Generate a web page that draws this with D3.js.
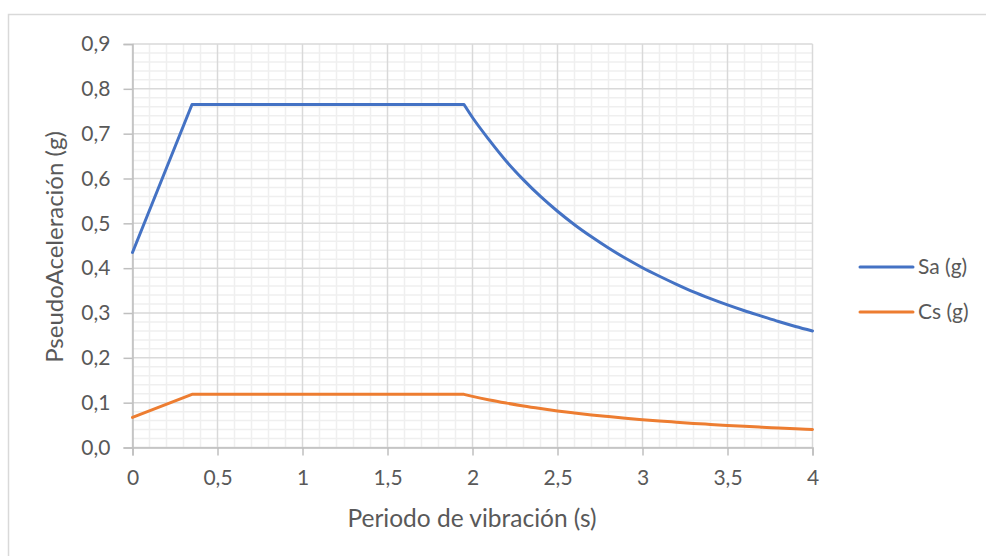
<!DOCTYPE html>
<html><head><meta charset="utf-8">
<script src="https://cdn.jsdelivr.net/npm/d3@7"></script>
<style>
html,body{margin:0;padding:0;background:#fff;}
svg{display:block;}
text{font-family:Lato,"Open Sans",sans-serif;fill:#595959;}
</style></head><body>
<svg id="c" width="986" height="556"></svg>
<script>
const periods = [0, 0.35, 1.95, 2.0, 2.1, 2.2, 2.3, 2.4, 2.5, 2.6, 2.7, 2.8, 2.9, 3.0, 3.1, 3.2, 3.3, 3.4, 3.5, 3.6, 3.7, 3.8, 3.9, 4.0];
const saValues = [0.435, 0.765, 0.765, 0.736, 0.685, 0.638, 0.597, 0.560, 0.527, 0.497, 0.470, 0.445, 0.422, 0.401, 0.382, 0.364, 0.347, 0.332, 0.318, 0.305, 0.293, 0.281, 0.270, 0.260];
const csValues = [0.067, 0.1185, 0.1185, 0.114, 0.106, 0.099, 0.0925, 0.0868, 0.0816, 0.077, 0.0727, 0.0689, 0.0653, 0.0621, 0.0591, 0.0564, 0.0538, 0.0515, 0.0493, 0.0472, 0.0453, 0.0436, 0.0419, 0.0403];
const seriesNames = ["Sa (g)", "Cs (g)"];
const seriesColors = ["#4472C4", "#ED7D31"];
const xTicks = [0, 0.5, 1, 1.5, 2, 2.5, 3, 3.5, 4];
const yTicks = [0, 0.1, 0.2, 0.3, 0.4, 0.5, 0.6, 0.7, 0.8, 0.9];
const xTitle = "Periodo de vibración (s)";
const yTitle = "PseudoAceleración (g)";

const svg = d3.select("#c");
svg.append("rect").attr("x", 8.5).attr("y", 14.5).attr("width", 1000).attr("height", 600)
  .attr("fill", "#fff").attr("stroke", "#d9d9d9").attr("stroke-width", 1.5);

const x = d3.scaleLinear().domain([0, 4]).range([132.5, 812.5]);
const y = d3.scaleLinear().domain([0, 0.9]).range([447.5, 44]);

const g = svg.append("g");
const xMinor = d3.range(0, 41).map(i => i / 10).filter(v => Math.abs(v * 2 - Math.round(v * 2)) > 1e-6);
const yMinor = d3.range(0, 46).map(i => i / 50).filter(v => Math.abs(v * 10 - Math.round(v * 10)) > 1e-6);
g.selectAll(".xm").data(xMinor).join("line")
  .attr("x1", d => x(d)).attr("x2", d => x(d)).attr("y1", y(0)).attr("y2", y(0.9))
  .attr("stroke", "#efefef").attr("stroke-width", 1.5);
g.selectAll(".ym").data(yMinor).join("line")
  .attr("x1", x(0)).attr("x2", x(4)).attr("y1", d => y(d)).attr("y2", d => y(d))
  .attr("stroke", "#efefef").attr("stroke-width", 1.5);
g.selectAll(".xM").data(xTicks).join("line")
  .attr("x1", d => x(d)).attr("x2", d => x(d)).attr("y1", y(0)).attr("y2", y(0.9))
  .attr("stroke", "#d9d9d9").attr("stroke-width", 1.5);
g.selectAll(".yM").data(yTicks).join("line")
  .attr("x1", x(0)).attr("x2", x(4)).attr("y1", d => y(d)).attr("y2", d => y(d))
  .attr("stroke", "#d9d9d9").attr("stroke-width", 1.5);

const fmt = d => d3.format(".1f")(d).replace(".", ",");
const fmtX = d => String(d).replace(".", ",");

const yAxis = svg.append("g").attr("transform", `translate(${x(0)},0)`)
  .call(d3.axisLeft(y).tickValues(yTicks).tickFormat(fmt).tickSize(9).tickPadding(13));
const xAxis = svg.append("g").attr("transform", `translate(0,${y(0)})`)
  .call(d3.axisBottom(x).tickValues(xTicks).tickFormat(fmtX).tickSize(8).tickPadding(15));
[yAxis, xAxis].forEach(a => {
  a.select(".domain").attr("stroke", "#bfbfbf").attr("stroke-width", 1.5);
  a.selectAll(".tick line").attr("stroke", "#bfbfbf").attr("stroke-width", 1.5);
  a.selectAll(".tick text").attr("fill", "#595959").style("font-size", "21px")
   .style("font-family", "Lato, 'Open Sans', sans-serif");
});

// straight rise + plateau (indices 0..2), smooth decay (indices 2..end)
const pts = vals => vals.map((v, i) => [periods[i], v]);
const lineLin = d3.line().x(d => x(d[0])).y(d => y(d[1]));
const lineSmooth = d3.line().x(d => x(d[0])).y(d => y(d[1])).curve(d3.curveMonotoneX);
[saValues, csValues].forEach((vals, k) => {
  const p = pts(vals);
  const d = lineLin(p.slice(0, 3)) + lineSmooth(p.slice(2)).replace(/^M[^A-Za-z]*/, "");
  svg.append("path").attr("d", lineLin(p.slice(0, 3)) + "L" + lineSmooth(p.slice(2)).slice(1))
    .attr("fill", "none").attr("stroke", seriesColors[k]).attr("stroke-width", 3)
    .attr("stroke-linejoin", "round").attr("stroke-linecap", "round");
});

svg.append("text").attr("x", 472).attr("y", 527).attr("text-anchor", "middle")
  .style("font-size", "24.5px").text(xTitle);
svg.append("text").attr("transform", "translate(63,247) rotate(-90)").attr("text-anchor", "middle")
  .style("font-size", "24px").text(yTitle);

const legY = [267, 312];
seriesNames.forEach((n, k) => {
  svg.append("line").attr("x1", 860).attr("x2", 913).attr("y1", legY[k]).attr("y2", legY[k])
    .attr("stroke", seriesColors[k]).attr("stroke-width", 3).attr("stroke-linecap", "round");
  svg.append("text").attr("x", 918).attr("y", legY[k]).attr("dy", "0.35em")
    .style("font-size", "21px").text(n);
});
</script>
</body></html>
